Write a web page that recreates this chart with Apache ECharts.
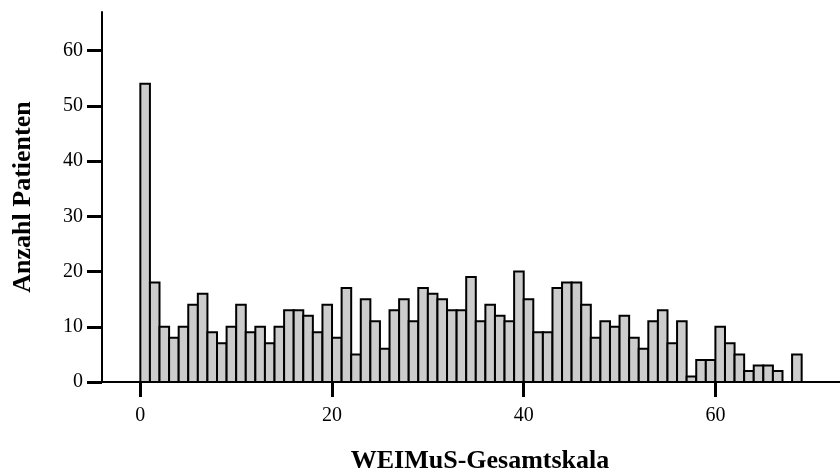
<!DOCTYPE html>
<html>
<head>
<meta charset="utf-8">
<script src="https://cdn.jsdelivr.net/npm/echarts@6/dist/echarts.min.js"></script>
<style>
  html, body { margin: 0; padding: 0; background: #fff; }
  #chart { width: 840px; height: 472px; }
</style>
</head>
<body>
<div id="chart"></div>
<script>
// Histogram of WEIMuS total scores: one bar per score point (0 … 68)
const scores = [
   0,  1,  2,  3,  4,  5,  6,  7,  8,  9,
  10, 11, 12, 13, 14, 15, 16, 17, 18, 19,
  20, 21, 22, 23, 24, 25, 26, 27, 28, 29,
  30, 31, 32, 33, 34, 35, 36, 37, 38, 39,
  40, 41, 42, 43, 44, 45, 46, 47, 48, 49,
  50, 51, 52, 53, 54, 55, 56, 57, 58, 59,
  60, 61, 62, 63, 64, 65, 66, 67, 68
];
const patientCounts = [
  54, 18, 10,  8, 10, 14, 16,  9,  7, 10,
  14,  9, 10,  7, 10, 13, 13, 12,  9, 14,
   8, 17,  5, 15, 11,  6, 13, 15, 11, 17,
  16, 15, 13, 13, 19, 11, 14, 12, 11, 20,
  15,  9,  9, 17, 18, 18, 14,  8, 11, 10,
  12,  8,  6, 11, 13,  7, 11,  1,  4,  4,
  10,  7,  5,  2,  3,  3,  2,  0,  5
];
const xTicks = [0, 20, 40, 60];
const yTicks = [0, 10, 20, 30, 40, 50, 60];

const xTitle = 'WEIMuS-Gesamtskala';
const yTitle = 'Anzahl Patienten';

const chart = echarts.init(document.getElementById('chart'), null, { renderer: 'canvas' });

const serif = '"Liberation Serif", "Times New Roman", serif';

chart.setOption({
  animation: false,
  backgroundColor: '#ffffff',
  grid: {
    left: 102, right: 0, top: 12, bottom: 90,
    containLabel: false,
    outerBoundsMode: 'none'
  },
  xAxis: {
    type: 'value',
    min: -4,
    max: 73,
    interval: 20,
    name: xTitle,
    nameLocation: 'middle',
    nameGap: 66,
    nameTextStyle: {
      fontFamily: serif, fontWeight: 'bold', fontSize: 26, color: '#000',
      padding: [0, 0, 0, 18]
    },
    axisLine: { show: true, onZero: false, lineStyle: { color: '#000', width: 2 } },
    axisTick: {
      show: true, inside: false, length: 15,
      customValues: xTicks,
      lineStyle: { color: '#000', width: 3 }
    },
    axisLabel: {
      customValues: xTicks,
      margin: 24,
      fontFamily: serif, fontSize: 20, color: '#000'
    },
    splitLine: { show: false }
  },
  yAxis: {
    type: 'value',
    min: 0,
    max: 67,
    interval: 10,
    name: yTitle,
    nameLocation: 'middle',
    nameGap: 66,
    nameRotate: 90,
    nameTextStyle: { fontFamily: serif, fontWeight: 'bold', fontSize: 26, color: '#000' },
    axisLine: { show: true, onZero: false, lineStyle: { color: '#000', width: 2 } },
    axisTick: {
      show: true, inside: false, length: 15,
      customValues: yTicks,
      lineStyle: { color: '#000', width: 3 }
    },
    axisLabel: {
      customValues: yTicks,
      margin: 19,
      fontFamily: serif, fontSize: 20, color: '#000'
    },
    splitLine: { show: false }
  },
  series: [{
    type: 'custom',
    data: scores.map((s, i) => [s, patientCounts[i]]),
    encode: { x: 0, y: 1 },
    clip: false,
    renderItem: function (params, api) {
      const start = api.value(0);
      const count = api.value(1);
      if (!count) { return null; }
      const p0 = api.coord([start, 0]);
      const p1 = api.coord([start + 1, count]);
      return {
        type: 'rect',
        shape: { x: p0[0], y: p1[1], width: p1[0] - p0[0], height: p0[1] - p1[1] },
        style: { fill: '#cccccc', stroke: '#000000', lineWidth: 2 }
      };
    }
  }]
});
</script>
</body>
</html>
